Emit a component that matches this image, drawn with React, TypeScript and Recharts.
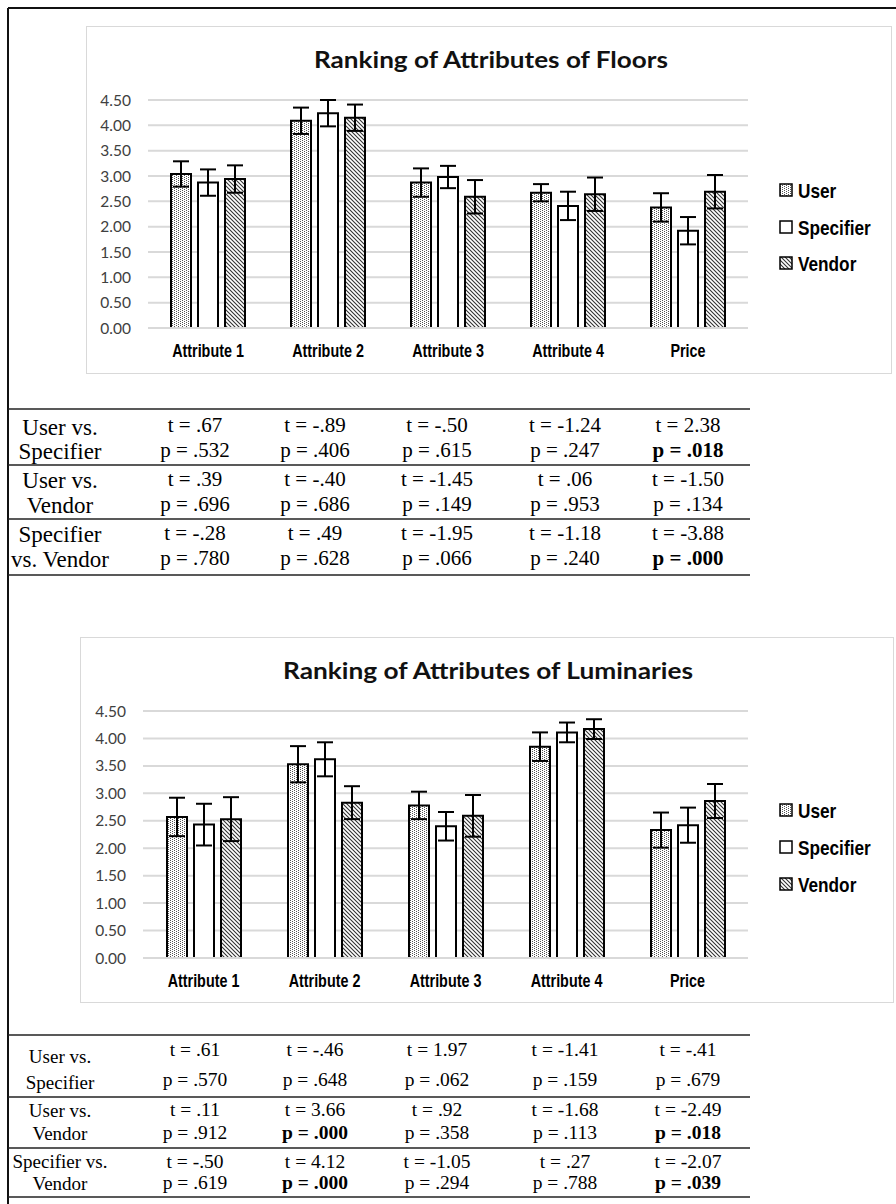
import React from "react";
import { BarChart, Bar, XAxis, YAxis, CartesianGrid, ErrorBar } from "recharts";

const categories = ["Attribute 1", "Attribute 2", "Attribute 3", "Attribute 4", "Price"];
const seriesNames = ["User", "Specifier", "Vendor"];
const yTicks = [0, 0.5, 1, 1.5, 2, 2.5, 3, 3.5, 4, 4.5];

// floors: mean ranking and error bar half-length
const floorsUser = [3.04, 4.09, 2.87, 2.67, 2.38];
const floorsUserErr = [0.25, 0.26, 0.28, 0.17, 0.28];
const floorsSpecifier = [2.87, 4.24, 2.98, 2.41, 1.92];
const floorsSpecifierErr = [0.26, 0.26, 0.22, 0.28, 0.27];
const floorsVendor = [2.94, 4.15, 2.59, 2.64, 2.69];
const floorsVendorErr = [0.27, 0.26, 0.33, 0.33, 0.33];

// luminaries
const lumUser = [2.57, 3.53, 2.78, 3.85, 2.33];
const lumUserErr = [0.35, 0.33, 0.25, 0.26, 0.32];
const lumSpecifier = [2.43, 3.62, 2.4, 4.11, 2.42];
const lumSpecifierErr = [0.38, 0.31, 0.26, 0.18, 0.32];
const lumVendor = [2.53, 2.83, 2.59, 4.17, 2.86];
const lumVendorErr = [0.4, 0.3, 0.38, 0.18, 0.31];

// t-test tables
const floorsPairs = [["User vs.", "Specifier"], ["User vs.", "Vendor"], ["Specifier", "vs. Vendor"]];
const floorsT = [
  [".67", "-.89", "-.50", "-1.24", "2.38"],
  [".39", "-.40", "-1.45", ".06", "-1.50"],
  ["-.28", ".49", "-1.95", "-1.18", "-3.88"],
];
const floorsP = [
  [".532", ".406", ".615", ".247", ".018"],
  [".696", ".686", ".149", ".953", ".134"],
  [".780", ".628", ".066", ".240", ".000"],
];

const lumPairs = [["User vs.", "Specifier"], ["User vs.", "Vendor"], ["Specifier vs.", "Vendor"]];
const lumT = [
  [".61", "-.46", "1.97", "-1.41", "-.41"],
  [".11", "3.66", ".92", "-1.68", "-2.49"],
  ["-.50", "4.12", "-1.05", ".27", "-2.07"],
];
const lumP = [
  [".570", ".648", ".062", ".159", ".679"],
  [".912", ".000", ".358", ".113", ".018"],
  [".619", ".000", ".294", ".788", ".039"],
];

const fills = ["url(#userDots)", "#ffffff", "url(#vendorHatch)"];
const AXIS_FONT = "Lato, 'Open Sans', sans-serif";
const ARIAL_FONT = "'Liberation Sans', Arial, sans-serif";
const SERIF_FONT = "'Liberation Serif', 'Times New Roman', serif";
const NARROW = 0.82; // Arial Narrow is roughly Arial squeezed to 82%

const buildRows = (
  u: number[], ue: number[], s: number[], se: number[], v: number[], ve: number[]
) =>
  categories.map((name, i) => ({
    name,
    user: u[i], userErr: ue[i],
    specifier: s[i], specifierErr: se[i],
    vendor: v[i], vendorErr: ve[i],
  }));

const floorsData = buildRows(floorsUser, floorsUserErr, floorsSpecifier, floorsSpecifierErr, floorsVendor, floorsVendorErr);
const lumData = buildRows(lumUser, lumUserErr, lumSpecifier, lumSpecifierErr, lumVendor, lumVendorErr);

const PatternDefs = () => (
  <svg width={0} height={0} style={{ position: "absolute" }}>
    <defs>
      <pattern id="userDots" width="4" height="2" patternUnits="userSpaceOnUse">
        <rect width="4" height="2" fill="#ffffff" />
        <rect x="0" y="0" width="1" height="1" fill="#555555" />
        <rect x="2" y="1" width="1" height="1" fill="#555555" />
      </pattern>
      <pattern id="vendorHatch" width="4" height="4" patternUnits="userSpaceOnUse">
        <rect width="4" height="4" fill="#ffffff" />
        <path d="M-1,-1 L5,5 M-1,3 L1,5 M3,-1 L5,1" stroke="#333333" strokeWidth="1.1" />
      </pattern>
    </defs>
  </svg>
);

const CategoryTick = (props: any) => {
  const { x, y, payload } = props;
  return (
    <text
      transform={`translate(${x},${y}) scale(${NARROW},1)`}
      textAnchor="middle"
      dy="0.71em"
      fontFamily={ARIAL_FONT}
      fontWeight={700}
      fontSize={17.5}
      fill="#000"
    >
      {payload.value}
    </text>
  );
};

interface PanelProps {
  data: ReturnType<typeof buildRows>;
  left: number;
  top: number;
  width: number;
  height: number;
  plotLeft: number;
  plotRight: number;
  plotTop: number;
  plotBottom: number;
  legendLeft: number;
  legendTops: number[];
}

const ChartPanel = ({ data, left, top, width, height, plotLeft, plotRight, plotTop, plotBottom, legendLeft, legendTops }: PanelProps) => {
  const yAxisWidth = 50;
  const xAxisHeight = 30;
  return (
    <>
      <div
        style={{
          position: "absolute", left, top, width, height,
          border: "1px solid #d9d9d9", boxSizing: "border-box",
        }}
      />
      <div style={{ position: "absolute", left, top }}>
        <BarChart
          width={width}
          height={height}
          data={data}
          barGap={7}
          margin={{
            top: plotTop - top,
            right: left + width - plotRight,
            bottom: top + height - plotBottom - xAxisHeight,
            left: plotLeft - left - yAxisWidth,
          }}
        >
          <CartesianGrid vertical={false} stroke="#d9d9d9" strokeWidth={2} />
          <XAxis
            dataKey="name"
            height={xAxisHeight}
            axisLine={{ stroke: "#d9d9d9", strokeWidth: 2 }}
            tickLine={false}
            tickSize={0}
            tickMargin={17}
            tick={<CategoryTick />}
          />
          <YAxis
            width={yAxisWidth}
            domain={[0, 4.5]}
            ticks={yTicks}
            axisLine={false}
            tickLine={false}
            tickSize={0}
            tickMargin={17}
            tickFormatter={(v: number) => v.toFixed(2)}
            tick={{ fontSize: 15.5, fill: "#404040", fontFamily: AXIS_FONT }}
          />
          {["user", "specifier", "vendor"].map((key, i) => (
            <Bar
              key={key}
              dataKey={key}
              name={seriesNames[i]}
              fill={fills[i]}
              stroke="#000"
              strokeWidth={2}
              barSize={20}
              isAnimationActive={false}
            >
              <ErrorBar dataKey={`${key}Err`} width={8} stroke="#000" strokeWidth={2} direction="y" />
            </Bar>
          ))}
        </BarChart>
      </div>
      {seriesNames.map((name, i) => (
        <svg
          key={name}
          width={110}
          height={26}
          style={{ position: "absolute", left: legendLeft, top: legendTops[i] - 13 }}
        >
          <rect x={2} y={7} width={12} height={12} fill={fills[i]} stroke="#000" strokeWidth={1.5} />
          <text
            transform={`translate(20,20.5) scale(${NARROW},1)`}
            fontFamily={ARIAL_FONT}
            fontWeight={700}
            fontSize={21}
            fill="#000"
          >
            {name}
          </text>
        </svg>
      ))}
    </>
  );
};

const isSig = (p: string) => parseFloat(p) < 0.05;

interface TableProps {
  pairs: string[][];
  tVals: string[][];
  pVals: string[][];
  lines: number[];
  rowY: number[][];
  labelY: number[][];
  fontSize: number;
  labelSize: number;
}

const colX = [195, 315, 437, 565, 688];

const TestTable = ({ pairs, tVals, pVals, lines, rowY, labelY, fontSize, labelSize }: TableProps) => {
  const base = fontSize * 0.33;
  const lbase = labelSize * 0.33;
  return (
    <g fontFamily={SERIF_FONT} fontSize={fontSize} fill="#000">
      {lines.map((y, i) => (
        <line key={i} x1={8} x2={750} y1={y} y2={y} stroke="#222" strokeWidth={1.6} />
      ))}
      {pairs.map((pair, r) => (
        <g key={r}>
          <text x={60} y={labelY[r][0] + lbase} fontSize={labelSize} textAnchor="middle">{pair[0]}</text>
          <text x={60} y={labelY[r][1] + lbase} fontSize={labelSize} textAnchor="middle">{pair[1]}</text>
          {tVals[r].map((t, c) => (
            <text key={`t${c}`} x={colX[c]} y={rowY[r][0] + base} textAnchor="middle">{`t = ${t}`}</text>
          ))}
          {pVals[r].map((p, c) => (
            <text
              key={`p${c}`}
              x={colX[c]}
              y={rowY[r][1] + base}
              textAnchor="middle"
              fontWeight={isSig(p) ? 700 : 400}
            >{`p = ${p}`}</text>
          ))}
        </g>
      ))}
    </g>
  );
};

export default function App() {
  return (
    <div style={{ position: "relative", width: 896, height: 1204, background: "#fff", overflow: "hidden" }}>
      <style>{`body{margin:0}`}</style>
      <PatternDefs />

      <ChartPanel
        data={floorsData}
        left={86}
        top={26}
        width={806}
        height={348}
        plotLeft={148}
        plotRight={748}
        plotTop={100}
        plotBottom={328}
        legendLeft={778}
        legendTops={[190, 227, 263]}
      />
      <ChartPanel
        data={lumData}
        left={80}
        top={637}
        width={814}
        height={366}
        plotLeft={143}
        plotRight={748}
        plotTop={711}
        plotBottom={958}
        legendLeft={778}
        legendTops={[810, 847, 884]}
      />

      <svg width={896} height={1204} style={{ position: "absolute", left: 0, top: 0, pointerEvents: "none" }}>
        <line x1={8} x2={896} y1={8} y2={8} stroke="#111" strokeWidth={2} />
        <line x1={8} x2={8} y1={8} y2={1204} stroke="#111" strokeWidth={2} />

        <text x={491} y={68} textAnchor="middle" fontFamily={AXIS_FONT} fontWeight={700} fontSize={23}
          textLength={354} lengthAdjust="spacingAndGlyphs" fill="#111">
          Ranking of Attributes of Floors
        </text>
        <text x={488} y={679} textAnchor="middle" fontFamily={AXIS_FONT} fontWeight={700} fontSize={23}
          textLength={410} lengthAdjust="spacingAndGlyphs" fill="#111">
          Ranking of Attributes of Luminaries
        </text>

        <TestTable
          pairs={floorsPairs}
          tVals={floorsT}
          pVals={floorsP}
          lines={[409, 465, 519, 575]}
          rowY={[[425, 450], [479, 504], [533, 558]]}
          labelY={[[427, 451], [480, 505], [534, 559]]}
          fontSize={21}
          labelSize={23}
        />
        <TestTable
          pairs={lumPairs}
          tVals={lumT}
          pVals={lumP}
          lines={[1035, 1097, 1148, 1197]}
          rowY={[[1050, 1080], [1110, 1133], [1162, 1183]]}
          labelY={[[1057, 1083], [1111, 1134], [1162, 1184]]}
          fontSize={19.5}
          labelSize={19}
        />
      </svg>
    </div>
  );
}
